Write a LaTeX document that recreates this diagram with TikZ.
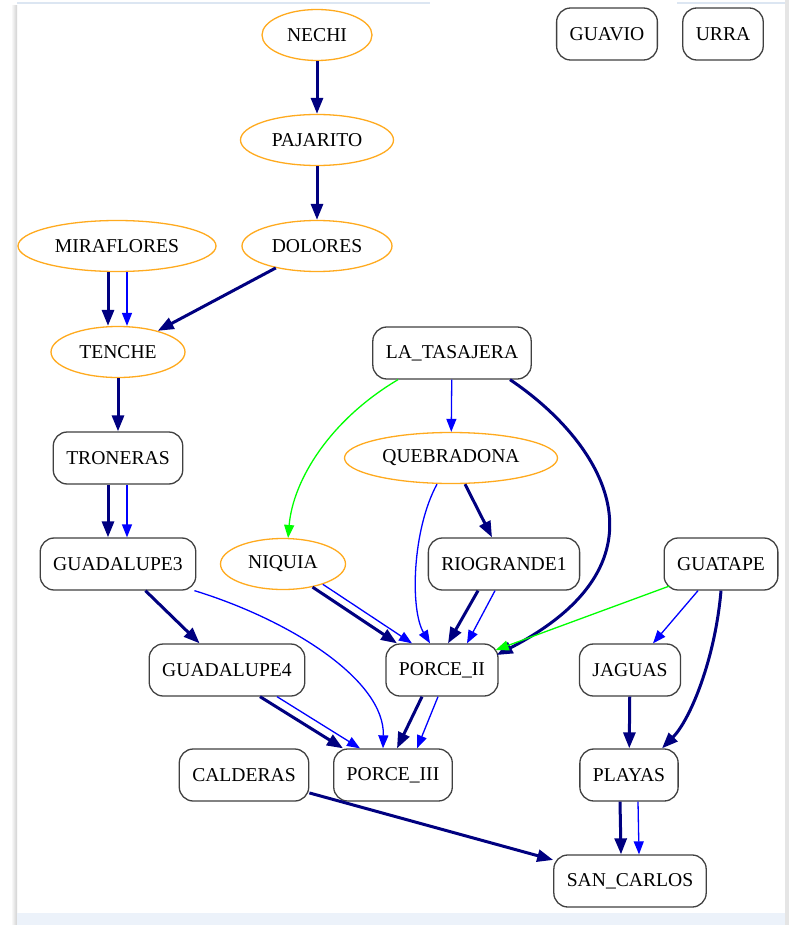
\documentclass[tikz,border=0pt]{standalone}
\usepackage{fontspec}
\setmainfont{Liberation Serif}
\usetikzlibrary{arrows.meta,shapes.geometric}
\definecolor{hnavy}{RGB}{0,0,128}
\definecolor{hblue}{RGB}{0,0,255}
\definecolor{hgreen}{RGB}{0,255,0}
\definecolor{horange}{RGB}{255,170,30}
\definecolor{panelblue}{RGB}{236,242,250}
\definecolor{edgeline}{RGB}{220,230,242}
\begin{document}
\begin{tikzpicture}[x=0.5pt,y=-0.5pt,
  plant/.style={draw=black!75,rounded corners=7pt,line width=0.65pt,minimum height=26pt,
    inner xsep=6.5pt,font=\fontsize{9.8}{11}\selectfont},
  lake/.style={ellipse,draw=horange,line width=0.65pt,minimum height=25.5pt,inner sep=0pt,
    font=\fontsize{9.8}{11}\selectfont},
  flowthick/.style={hnavy,line width=1.5pt,-{Triangle[length=8pt,width=6pt]}},
  flowthin/.style={hblue,line width=0.65pt,-{Triangle[length=6.5pt,width=5pt]}},
  flowgreen/.style={flowthin,hgreen}]
% page frame
\fill[white] (0,0) rectangle (789,925);
\shade[left color=white,right color=black!18] (11,6) rectangle (17,925);
\fill[black!10] (785,0) rectangle (789,925);
\fill[panelblue] (17,913) rectangle (785,925);
\draw[edgeline,line width=0.6pt] (17,3)--(430,3);
\draw[edgeline,line width=0.6pt] (677,3)--(785,3);
% plants
\node[lake,minimum width=55pt] (nechi) at (317,35) {NECHI};
\node[plant] (guavio) at (607,34) {GUAVIO};
\node[plant] (urra) at (723,34) {URRA};
\node[lake,minimum width=76.5pt] (pajarito) at (317,140) {PAJARITO};
\node[lake,minimum width=99pt] (miraflores) at (117,246) {MIRAFLORES};
\node[lake,minimum width=75pt] (dolores) at (317,246) {DOLORES};
\node[lake,minimum width=67pt] (tenche) at (118,352) {TENCHE};
\node[plant] (tasajera) at (452,353) {LA\_TASAJERA};
\node[plant] (troneras) at (118,458) {TRONERAS};
\node[lake,minimum width=106.5pt] (quebradona) at (451,458) {QUEBRADONA};
\node[plant] (guadalupe3) at (118,564) {GUADALUPE3};
\node[lake,minimum width=62.5pt] (niquia) at (283,564) {NIQUIA};
\node[plant] (riogrande) at (504,564) {RIOGRANDE1};
\node[plant] (guatape) at (721,564) {GUATAPE};
\node[plant] (guadalupe4) at (227,670) {GUADALUPE4};
\node[plant] (porce2) at (442,670) {PORCE\_II};
\node[plant] (jaguas) at (630,670) {JAGUAS};
\node[plant] (calderas) at (244,775) {CALDERAS};
\node[plant] (porce3) at (393,775) {PORCE\_III};
\node[plant] (playas) at (629,775) {PLAYAS};
\node[plant] (sancarlos) at (630,881) {SAN\_CARLOS};
% flows
\draw[flowthick] (nechi) -- (pajarito);
\draw[flowthick] (pajarito) -- (dolores);
\draw[flowthick] ([xshift=-4.5pt]miraflores.south) -- ([xshift=-5pt]tenche.north);
\draw[flowthin] ([xshift=5pt]miraflores.south) -- ([xshift=4.5pt]tenche.north);
\draw[flowthick] (dolores) -- (tenche);
\draw[flowthick] (tenche) -- (troneras);
\draw[flowthick] ([xshift=-5pt]troneras.south) -- ([xshift=-5pt]guadalupe3.north);
\draw[flowthin] ([xshift=4.5pt]troneras.south) -- ([xshift=4.5pt]guadalupe3.north);
\draw[flowthick] (guadalupe3) -- (guadalupe4);
\draw[flowthin] ([xshift=-1pt]guadalupe3.south east) .. controls (290,620) and (385,680) .. ([xshift=-5pt]porce3.north);
\draw[flowthick] ([xshift=16.5pt]guadalupe4.south) -- ([xshift=-25pt]porce3.north);
\draw[flowthin] ([xshift=25pt]guadalupe4.south) -- ([xshift=-16.5pt]porce3.north);
\draw[flowgreen] ([xshift=-27pt]tasajera.south) .. controls (330,420) and (293,480) .. (niquia.79);
\draw[flowthin] (tasajera) -- (quebradona);
\draw[flowthick] ([xshift=29pt]tasajera.south) .. controls (600,440) and (680,560) .. ([xshift=-1pt,yshift=7.5pt]porce2.east);
\draw[flowthick] ([xshift=7pt]quebradona.south) -- ([xshift=-6pt]riogrande.north);
\draw[flowthin] ([xshift=-7pt]quebradona.south) .. controls (412,530) and (410,610) .. ([xshift=-6pt]porce2.north);
\draw[flowthick] (niquia.-38) -- ([xshift=-22.5pt]porce2.north);
\draw[flowthin] (niquia.-27) -- ([xshift=-15pt]porce2.north);
\draw[flowthick] ([xshift=-13pt]riogrande.south) -- ([xshift=3pt]porce2.north);
\draw[flowthin] ([xshift=-4.5pt]riogrande.south) -- ([xshift=12.5pt]porce2.north);
\draw[flowgreen] ([xshift=3pt,yshift=-11pt]guatape.west) -- ([xshift=-1.5pt,yshift=10pt]porce2.east);
\draw[flowthin] ([xshift=-11.5pt]guatape.south) -- ([xshift=11.5pt]jaguas.north);
\draw[flowthick] (guatape.south) .. controls (715,660) and (690,720) .. ([xshift=16.5pt]playas.north);
\draw[flowthick] (jaguas) -- (playas);
\draw[flowthick] ([xshift=-10pt]porce2.south) -- ([xshift=2pt]porce3.north);
\draw[flowthin] ([xshift=-2pt]porce2.south) -- ([xshift=12pt]porce3.north);
\draw[flowthick] (calderas) -- (sancarlos);
\draw[flowthick] ([xshift=-4.5pt]playas.south) -- ([xshift=-4.5pt]sancarlos.north);
\draw[flowthin] ([xshift=4.5pt]playas.south) -- ([xshift=4.5pt]sancarlos.north);
\end{tikzpicture}
\end{document}
